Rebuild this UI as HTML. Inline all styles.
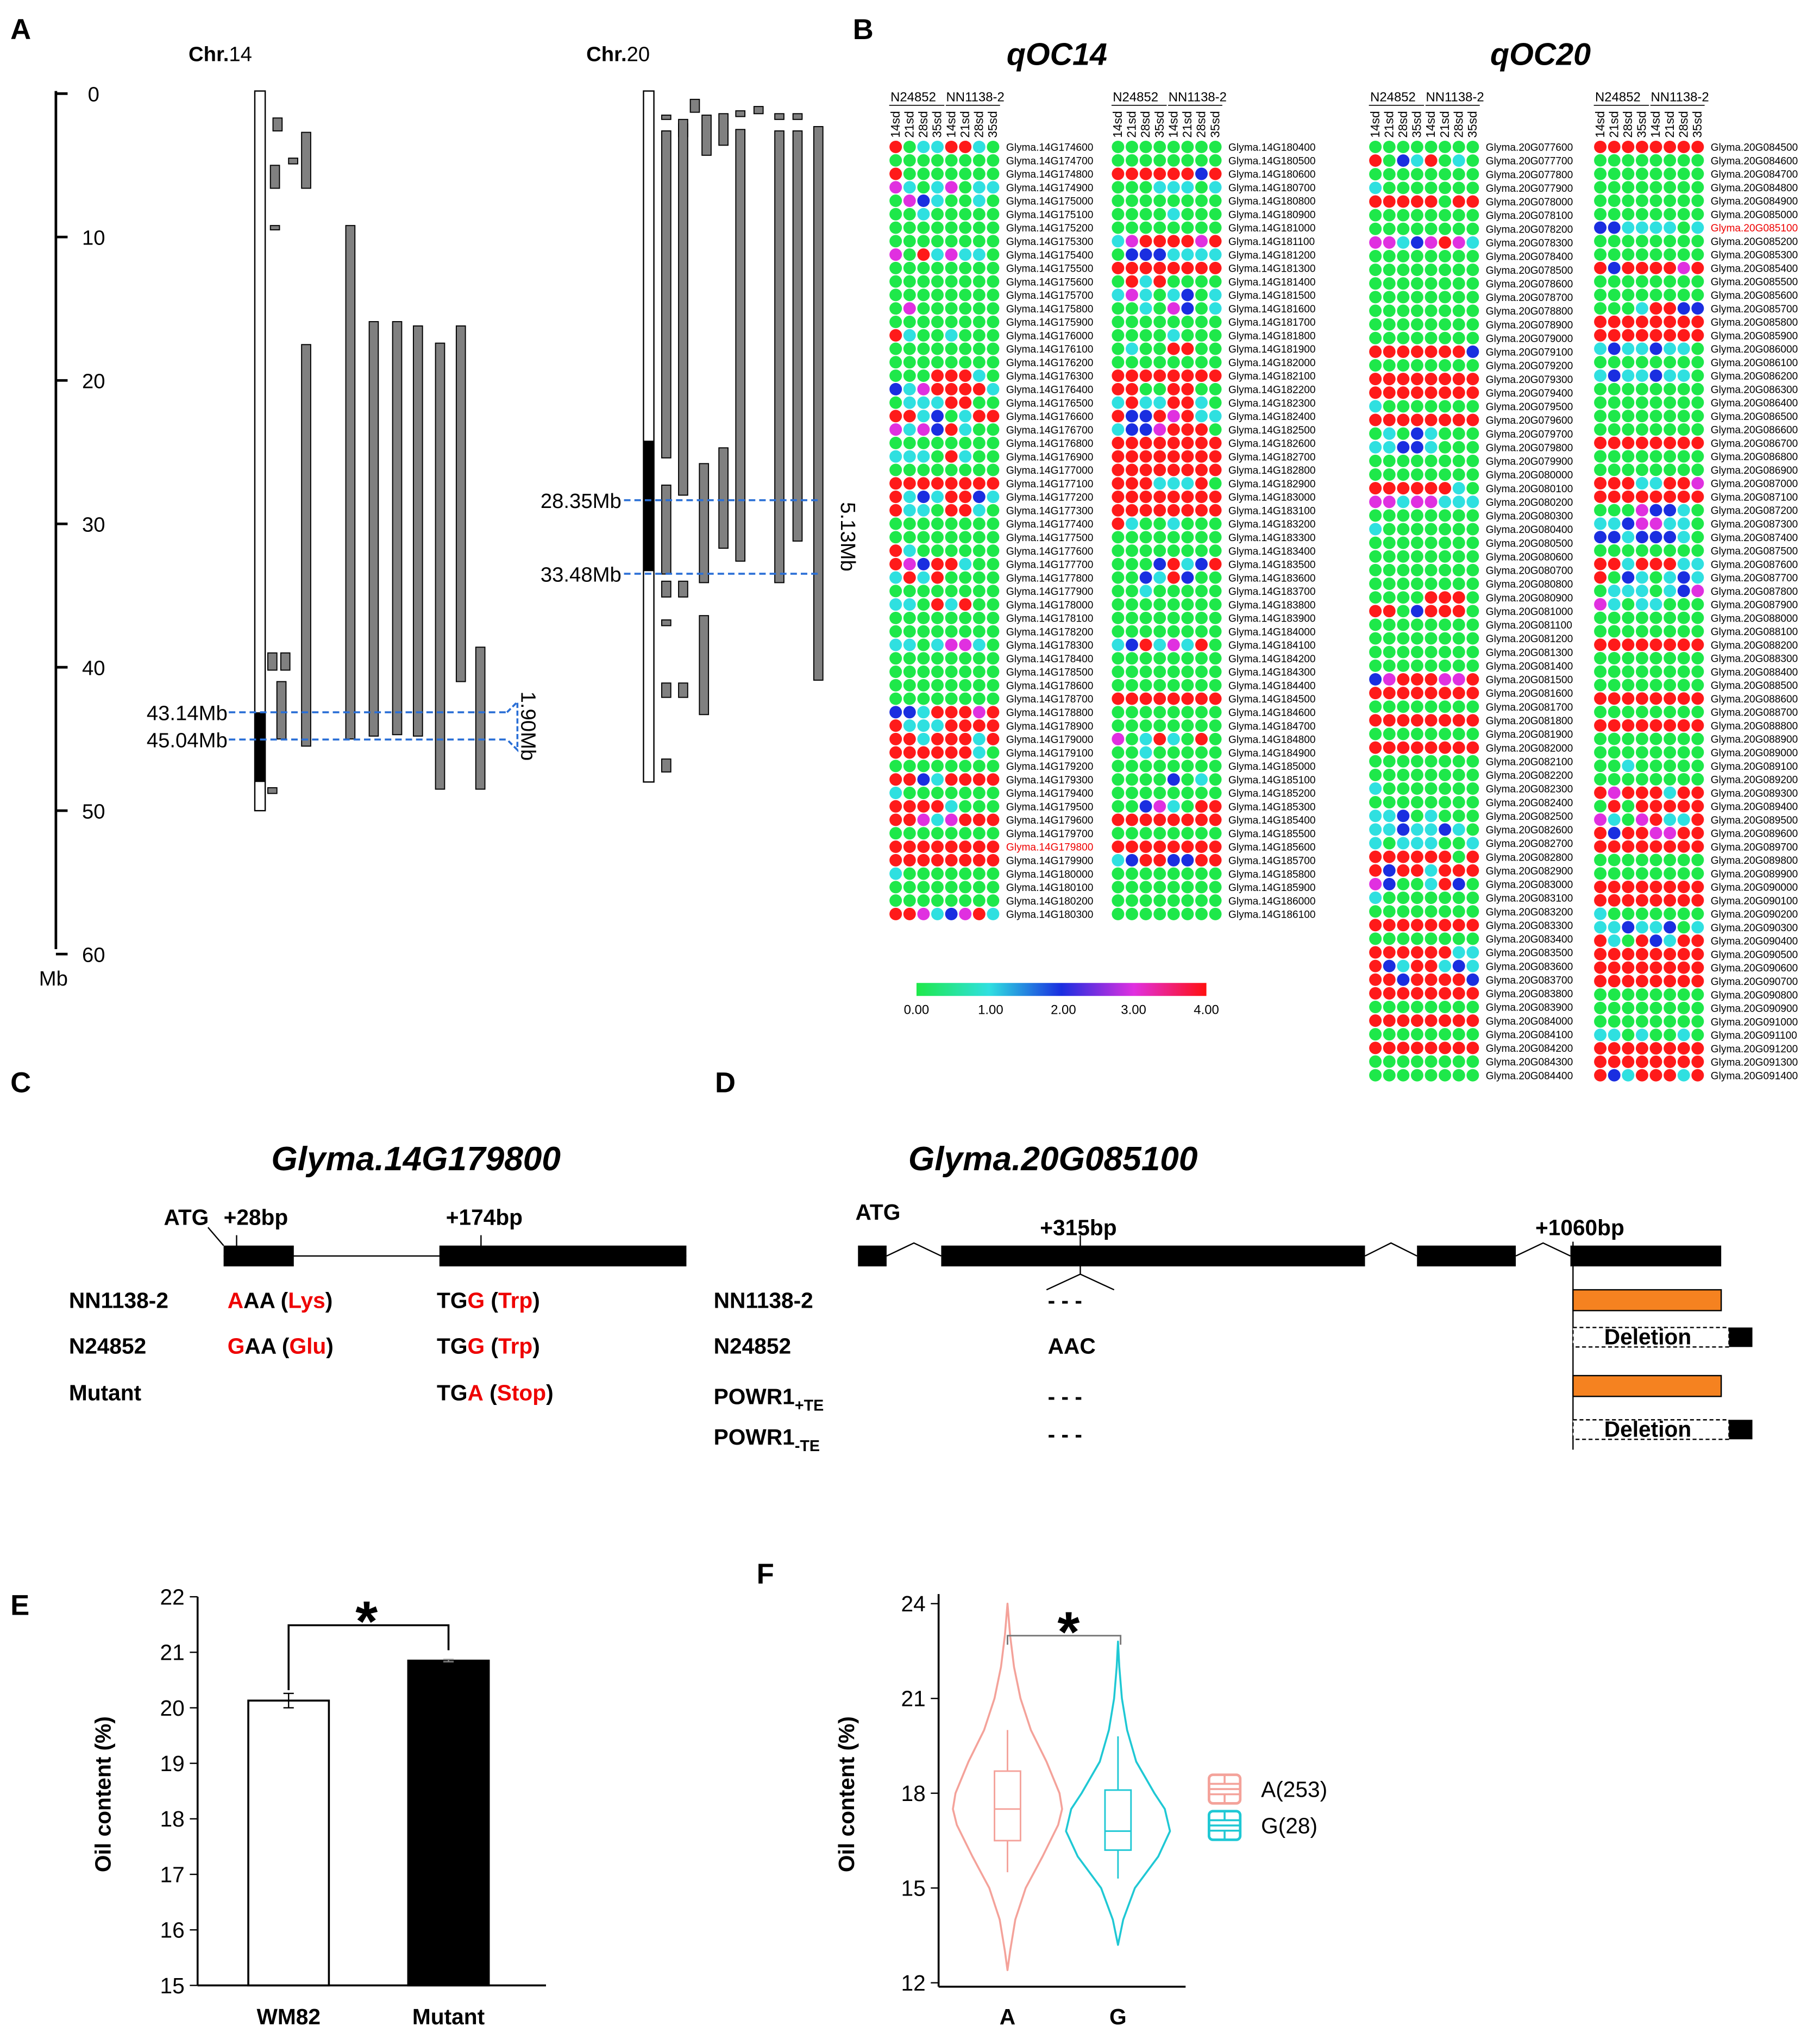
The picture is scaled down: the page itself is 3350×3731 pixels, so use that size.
<!DOCTYPE html>
<html><head><meta charset="utf-8">
<style>
html,body{margin:0;padding:0;background:#fff;}
svg{display:block;font-family:"Liberation Sans",Arial,sans-serif;}
</style></head>
<body>
<svg id="fig" width="3350" height="3731" viewBox="0 0 1400 1559" preserveAspectRatio="none" xmlns="http://www.w3.org/2000/svg">
<rect width="1400" height="1559" fill="#fff"/>
<g id="panelA">
<text x="8" y="30" font-size="22" font-weight="bold">A</text>
<text x="145" y="47" font-size="16"><tspan font-weight="bold">Chr.</tspan>14</text>
<text x="451" y="47" font-size="16"><tspan font-weight="bold">Chr.</tspan>20</text>
<text x="30" y="758" font-size="16">Mb</text>
</g>
<g id="panelB">
<text x="656" y="30" font-size="22" font-weight="bold">B</text>
<text x="813" y="50" font-size="24" font-weight="bold" font-style="italic" text-anchor="middle">qOC14</text>
<text x="1185" y="50" font-size="24" font-weight="bold" font-style="italic" text-anchor="middle">qOC20</text>
<defs><linearGradient id="cb" x1="0" x2="1" y1="0" y2="0">
<stop offset="0" stop-color="#1ee84a"/><stop offset="0.25" stop-color="#2fe0e0"/><stop offset="0.5" stop-color="#1a2ee0"/><stop offset="0.75" stop-color="#e030e0"/><stop offset="1" stop-color="#ff1010"/></linearGradient></defs>
<rect x="705" y="756" width="223" height="10" fill="url(#cb)"/>
<g font-size="10" text-anchor="middle">
<text x="705" y="780">0.00</text><text x="762" y="780">1.00</text><text x="818" y="780">2.00</text><text x="872" y="780">3.00</text><text x="928" y="780">4.00</text></g>
</g>
<g id="panelC">
<text x="8" y="840" font-size="22" font-weight="bold">C</text>
<text x="320" y="900" font-size="26" font-weight="bold" font-style="italic" text-anchor="middle">Glyma.14G179800</text>
<line x1="172" y1="966" x2="528" y2="966" stroke="#000" stroke-width="1"/>
<rect x="172" y="958" width="54" height="16" fill="#000"/>
<rect x="338" y="958" width="190" height="16" fill="#000"/>
<line x1="160" y1="944" x2="172" y2="958" stroke="#000"/>
<line x1="182" y1="950" x2="182" y2="966" stroke="#000"/><line x1="370" y1="950" x2="370" y2="966" stroke="#000"/>
<g font-size="17" font-weight="bold">
<text x="126" y="942">ATG</text><text x="172" y="942">+28bp</text><text x="343" y="942">+174bp</text>
<text x="53" y="1006">NN1138-2</text><text x="53" y="1041">N24852</text><text x="53" y="1077">Mutant</text>
<text x="175" y="1006"><tspan fill="#e00">A</tspan>AA (<tspan fill="#e00">Lys</tspan>)</text>
<text x="175" y="1041"><tspan fill="#e00">G</tspan>AA (<tspan fill="#e00">Glu</tspan>)</text>
<text x="336" y="1006">TG<tspan fill="#e00">G</tspan> (<tspan fill="#e00">Trp</tspan>)</text>
<text x="336" y="1041">TG<tspan fill="#e00">G</tspan> (<tspan fill="#e00">Trp</tspan>)</text>
<text x="336" y="1077">TG<tspan fill="#e00">A</tspan> (<tspan fill="#e00">Stop</tspan>)</text>
</g>
</g>
<g id="panelD">
<text x="550" y="840" font-size="22" font-weight="bold">D</text>
<text x="810" y="900" font-size="26" font-weight="bold" font-style="italic" text-anchor="middle">Glyma.20G085100</text>
<polyline points="682,966 703,956 724,966" fill="none" stroke="#000"/>
<polyline points="1050,966 1070,956 1090,966" fill="none" stroke="#000"/>
<polyline points="1166,966 1187,956 1208,966" fill="none" stroke="#000"/>
<rect x="660" y="958" width="22" height="16" fill="#000"/>
<rect x="724" y="958" width="326" height="16" fill="#000"/>
<rect x="1090" y="958" width="76" height="16" fill="#000"/>
<rect x="1208" y="958" width="116" height="16" fill="#000"/>
<line x1="831" y1="950" x2="831" y2="980" stroke="#000"/>
<polyline points="805,992 831,980 857,992" fill="none" stroke="#000"/>
<line x1="1210" y1="955" x2="1210" y2="1115" stroke="#000"/>
<g font-size="17" font-weight="bold">
<text x="658" y="938">ATG</text><text x="800" y="950">+315bp</text><text x="1181" y="950">+1060bp</text>
<text x="549" y="1006">NN1138-2</text><text x="549" y="1041">N24852</text>
<text x="549" y="1080">POWR1<tspan font-size="12" dy="5">+TE</tspan></text>
<text x="549" y="1111">POWR1<tspan font-size="12" dy="5">-TE</tspan></text>
<text x="806" y="1006">- - -</text><text x="806" y="1041">AAC</text><text x="806" y="1080">- - -</text><text x="806" y="1109">- - -</text>
</g>
<rect x="1210" y="992" width="114" height="16" fill="#f58220" stroke="#000"/>
<rect x="1210" y="1058" width="114" height="16" fill="#f58220" stroke="#000"/>
<rect x="1210" y="1021" width="120" height="15" fill="#fff" stroke="#000" stroke-dasharray="3,2"/>
<rect x="1330" y="1021" width="18" height="15" fill="#000"/>
<text x="1234" y="1034" font-size="17" font-weight="bold">Deletion</text>
<rect x="1210" y="1092" width="120" height="15" fill="#fff" stroke="#000" stroke-dasharray="3,2"/>
<rect x="1330" y="1092" width="18" height="15" fill="#000"/>
<text x="1234" y="1105" font-size="17" font-weight="bold">Deletion</text>
</g>
<g id="panelE">
<text x="8" y="1242" font-size="22" font-weight="bold">E</text>
<text transform="translate(85,1380) rotate(-90)" font-size="17" font-weight="bold" text-anchor="middle">Oil content (%)</text>
</g>
<g id="panelF">
<text x="582" y="1218" font-size="22" font-weight="bold">F</text>
<text transform="translate(657,1380) rotate(-90)" font-size="17" font-weight="bold" text-anchor="middle">Oil content (%)</text>
</g>
</svg>
<script>
const NS='http://www.w3.org/2000/svg';
const svg=document.getElementById('fig');
function mk(tag,attrs,parent){const e=document.createElementNS(NS,tag);for(const k in attrs)e.setAttribute(k,attrs[k]);(parent||svg).appendChild(e);return e;}
function tx(str,attrs,parent){const e=mk('text',attrs,parent);e.textContent=str;return e;}

/* ---------- Panel A data ---------- */
const mbTicks=[0,10,20,30,40,50,60];
const chr14Len=50, chr20Len=48;
const chr14Black=[43.14,48];
const chr20Black=[24.2,33.3];
const chr14Start=[1.7,5,4.5,9.2,2.7,17.5,9.2,15.9,15.9,16.2,17.4,16.2,38.6,39,39,41,48.4];
const chr14End=[2.6,6.6,4.9,9.5,6.6,45.5,45,44.8,44.7,44.8,48.5,41,48.5,40.2,40.2,45,48.8];
const chr20Start=[1.5,2.6,2.1,0.4,1.8,1.5,1.4,1.2,0.9,1.4,1.4,2.6,2.6,2.3,2.5,24.7,25.8,27.3,34,34,36.4,41.1,41.1,46.4,36.7];
const chr20End=[1.8,25.4,3,1.3,28.0,4.3,3.6,1.6,1.4,1.8,1.8,34.1,31.2,40.9,32.6,31.7,34.1,33.5,35.1,35.1,43.3,42.1,42.1,47.3,37.1];
const chr14X=[210,208,222,208,232,232,266,284,302,318,335,351,366,206,216,213,206];
const chr20X=[509,509,522,531,522,540,553,566,580,596,610,596,610,626,566,553,538,509,509,522,538,509,522,509,509];
const yMb=v=>72+v*11.03;
const gA=document.getElementById('panelA');
let ax=mk('line',{x1:43,y1:70,x2:43,y2:730,stroke:'#000','stroke-width':2},gA);


mbTicks.forEach(t=>{
  const l=mk('line',{x1:43,y1:yMb(t),x2:52,y2:yMb(t),stroke:'#000','stroke-width':2},gA);
  
  
  const tt=tx(String(t),{x:72,y:yMb(t)+6,'font-size':16,'text-anchor':'middle'},gA);
  
  
});
function chrom(x,len,black,name){
  const r=mk('rect',{x:x,y:yMb(0)-2,width:8,height:yMb(len)-yMb(0)+2,fill:'#fff',stroke:'#000','stroke-width':1},gA);
  
  
  const b=mk('rect',{x:x,y:yMb(black[0]),width:8,height:yMb(black[1])-yMb(black[0]),fill:'#000'},gA);
  
  
}
chrom(196,chr14Len,chr14Black,'chr14-bar');
chrom(495,chr20Len,chr20Black,'chr20-bar');
function segs(xs,st,en,name){
  for(let i=0;i<xs.length;i++){
    const r=mk('rect',{x:xs[i],y:yMb(st[i]),width:7,height:Math.max(2,yMb(en[i])-yMb(st[i])),fill:'#808080',stroke:'#000','stroke-width':0.8},gA);
    
    
  }
}
segs(chr14X,chr14Start,chr14End,'chr14-segment');
segs(chr20X,chr20Start,chr20End,'chr20-segment');
function dash(x1,x2,mb,label,lx,name){
  const l=mk('line',{x1:x1,y1:yMb(mb),x2:x2,y2:yMb(mb),stroke:'#2a6fd6','stroke-width':1.5,'stroke-dasharray':'5,3'},gA);
  
  
  const t=tx(label,{x:lx,y:yMb(mb)+6,'font-size':16,'text-anchor':'end'},gA);
  
  
}
dash(176,390,43.14,'43.14Mb',175,'qtl14-start-line');
dash(176,390,45.04,'45.04Mb',175,'qtl14-end-line');
dash(480,630,28.35,'28.35Mb',478,'qtl20-start-line');
dash(480,630,33.48,'33.48Mb',478,'qtl20-end-line');
let br=mk('path',{d:`M390 ${yMb(43.14)} L398 ${yMb(43.14)-8} L398 ${yMb(45.04)+8} L390 ${yMb(45.04)}`,fill:'none',stroke:'#2a6fd6','stroke-width':1.5,'stroke-dasharray':'4,2'},gA);


let t1=tx('1.90Mb',{transform:`translate(401,${yMb(44.1)}) rotate(90)`,'font-size':16,'text-anchor':'middle'},gA);


let t2=tx('5.13Mb',{transform:`translate(647,${yMb(30.9)}) rotate(90)`,'font-size':16,'text-anchor':'middle'},gA);



/* ---------- Panel B heatmaps ---------- */
const colHeads=['14sd','21sd','28sd','35sd','14sd','21sd','28sd','35sd'];
const heat14a=["rgccrrcg","gggggggg","rggggggg","mcgcmgcc","gmbcggcg","ggcggggg","gggggggg","gggggggg","mgrcmccg","gggggggg","gggggggg","gggggggg","gmgggggg","gggggggg","rcggcggg","gggggggg","gggggggg","gggrrrcg","bcmrrrrc","gcccrrgg","rrcbgcrr","mcmbrcgg","gggggggg","cccgrcgg","gggggggg","rrrrrrrr","rcbcrrbc","rccgrrcg","gggggggg","gggggggg","rcgggggg","rmbrrcgg","crcrgggg","gggggggg","ccgrcrgg","gggggggg","gggggggg","ccgcmmcg","gggggggg","gggggggg","gggggggg","gggggggg","bbcrrrmr","rcccrrrr","rrcrrrcr","rrrrrrcg","gggggggg","rrbcrrrr","cggggggg","rrrrcggg","rrmcmrrr","gggggggg","rrrrrrrr","rrrrrrrr","cggggggg","gggggggg","gggggggg","rrmcbmrc"];
const heat14b=["gggggggg","gggggggg","rrrrrrbr","gggcccgc","gggggggg","ggggcggg","gggggggg","cmrrrrmr","gbbbcccc","rrrrrrrr","grcrgggg","cmcgcbgc","ggcgmbgc","gggggggg","ggggcggg","gcggrrgg","gggggggg","rrrrrrrr","rrggrrgg","crccrrcg","rbbrmrcc","cbbmrrrg","rrrrrrrr","rrrrrrrr","rrrrrrrr","rrrcccrg","rrrrrrrr","rrrrrrrr","rcggcggg","gggggggg","gggggggg","gggbrcbr","ggbcrbgg","ggcggggg","gggggggg","gggggggg","gggggggg","cbrcmcrg","gggggggg","gggggggg","gggggggg","rrrrrrrr","gggggggg","gggggggg","mgcrcgrg","ggcggggg","gggggggg","ggggbgcg","gggggggg","ggbmcgrr","rrrrrrrr","gggggggg","rrrrrrrr","cbrrbbrr","gggggggg","gggggggg","gggggggg","gggggggg"];
const heat20a=["gggggggg","rgbcrgcg","gggggggg","cggggggg","rrrrrgrr","gggggggg","gggggggg","mmcbmrmc","gggggggg","gggggggg","gggggggg","gggggggg","gggggggg","gggggggg","gggggggg","rrrrrrrb","gggggggg","rrrrrrrr","rrrrrrrr","cggggggg","rrrrrrrr","gcgbcggg","ccbbcggg","gggggggg","gggggggg","rrrrrrcg","mmcmmccc","gggggggg","cggggggg","gggggggg","gggggggg","gggggggg","gggggggg","ggggrrrg","rrgbrrrg","gggggggg","gggggggg","gggggggg","gggggggg","bmrrrmmr","rrrrrrrr","gggggggg","rrrrrrrr","gggggggg","rrrrrrrr","gggggggg","gggggggg","cggggggg","gggggggg","ccbgcggg","ccbccbcg","cgcccggc","rrrrrrgr","rbrrcrrr","mbggcrbg","cggggggg","gggggggg","rrrrrrrr","gggggggg","rrrrrrcc","rbcrrcbc","rrbrrrrb","rrrrrrrr","gggggggg","rrrrrrrr","gggggggg","rrrrrrrr","gggggggg","gggggggg"];
const heat20b=["rrrrrrrr","gggggggg","gggggggg","gggggggg","gggggggg","gggggggg","bbccccgc","gggggggg","gggggggg","rbrrrrmr","gggggggg","gggggggg","gggcrrbb","rrrrrrrr","rrrrrrrr","cbccbccg","gggggggg","cbccbccg","gggggggg","gggggggg","gggggggg","gggggggg","rrrrrrrr","gggggggg","gggggggg","rrrccrrm","rrrrrrrr","gggmbbcg","ccbmmccg","bbcbbbcg","gggggggg","rrcrrrcc","rgbcgcbc","gcccgcbm","mcgccggg","gggggggg","gggggggg","rrrrrrrr","gggggggg","gggggggg","gggggggg","rrrrrrrr","gggggggg","rrrrrrrr","gggggggg","gggggggg","ggcggggg","gggggggg","rmrrrcrr","grgrrrrr","mcgmrccr","rbrrmmrr","rrrrrrrr","gggggggg","gggggggg","rrrrrrrr","rrrrrrrr","cggggggg","ccbccbgc","rcgrbcrr","rrrrrrrr","rrrrrrrr","rrrrrrrr","gggggggg","gggggggg","gggggggg","ccgcggcg","rrrrrrrr","rrrrrrrr","rbcrrrcr"];
const genes14a=heat14a.map((_,i)=>'Glyma.14G'+(174600+i*100));
const genes14b=heat14b.map((_,i)=>'Glyma.14G'+(180400+i*100));
const genes20a=heat20a.map((_,i)=>'Glyma.20G0'+(77600+i*100));
const genes20b=heat20b.map((_,i)=>'Glyma.20G0'+(84500+i*100));
const highlighted=['Glyma.14G179800','Glyma.20G085100'];
const colorMap={g:'#1ee84a',c:'#2fe0e0',b:'#1a2ee0',m:'#e030e0',r:'#ff1a1a'};
const gB=document.getElementById('panelB');
function heatBlock(rows,genes,x0,y0,y1,name){
  const g=mk('g',{},gB);
  
  
  const dx=10.7, dy=(y1-y0)/(rows.length-1);
  const n1=tx('N24852',{x:x0-4,y:78,'font-size':10},g);
  
  
  const n2=tx('NN1138-2',{x:x0+4*dx-4,y:78,'font-size':10},g);
  
  
  mk('line',{x1:x0-5,y1:81,x2:x0+3.5*dx,y2:81,stroke:'#000','stroke-width':0.7},g);
  mk('line',{x1:x0+3.6*dx,y1:81,x2:x0+7.5*dx,y2:81,stroke:'#000','stroke-width':0.7},g);
  colHeads.forEach((h,j)=>{
    const t=tx(h,{transform:`translate(${x0+j*dx+3},106) rotate(-90)`,'font-size':9.5},g);
    
    
  });
  rows.forEach((row,i)=>{
    const y=y0+i*dy;
    for(let j=0;j<row.length;j++){
      const c=mk('circle',{cx:x0+j*dx,cy:y,r:4.8,fill:colorMap[row[j]]||'#1ee84a'},g);
      
      
    }
    const hl=highlighted.includes(genes[i]);
    const t=tx(genes[i],{x:x0+7*dx+10,y:y+3,'font-size':8,fill:hl?'#e00':'#000'},g);
    
    
  });
}
heatBlock(heat14a,genes14a,689,113,703,'heatmap-14-left');
heatBlock(heat14b,genes14b,860,113,703,'heatmap-14-right');
heatBlock(heat20a,genes20a,1058,113,827,'heatmap-20-left');
heatBlock(heat20b,genes20b,1231,113,827,'heatmap-20-right');

/* ---------- Panel E bar chart ---------- */
const eCats=['WM82','Mutant'];
const eVals=[20.13,20.85];
const eErr=[0.13,0.02];
const eTicks=[15,16,17,18,19,20,21,22];
const eY=v=>1527-(v-15)*42.7;
const eX=[222,345];
const gE=document.getElementById('panelE');
let ea=mk('line',{x1:152,y1:eY(22),x2:152,y2:eY(15),stroke:'#000','stroke-width':1.5},gE);


let ex=mk('line',{x1:152,y1:eY(15),x2:420,y2:eY(15),stroke:'#000','stroke-width':1.5},gE);


eTicks.forEach(t=>{
  mk('line',{x1:146,y1:eY(t),x2:152,y2:eY(t),stroke:'#000'},gE);
  const l=tx(String(t),{x:142,y:eY(t)+6,'font-size':17,'text-anchor':'end'},gE);
  
  
});
eCats.forEach((c,i)=>{
  const b=mk('rect',{x:eX[i]-31,y:eY(eVals[i]),width:62,height:eY(15)-eY(eVals[i]),fill:i?'#000':'#fff',stroke:'#000','stroke-width':1.5},gE);
  
  
  const e=mk('path',{d:`M${eX[i]} ${eY(eVals[i]+eErr[i])} V${eY(eVals[i]-eErr[i])} M${eX[i]-4} ${eY(eVals[i]+eErr[i])} H${eX[i]+4} M${eX[i]-4} ${eY(eVals[i]-eErr[i])} H${eX[i]+4}`,stroke:i?'#888':'#000',fill:'none'},gE);
  
  
  const l=tx(c,{x:eX[i],y:1557,'font-size':17,'font-weight':'bold','text-anchor':'middle'},gE);
  
  
});
let eb=mk('path',{d:`M${eX[0]} ${eY(eVals[0])-8} V1250 H${eX[1]} V${eY(eVals[1])-8}`,fill:'none',stroke:'#000','stroke-width':1.5},gE);


let es=tx('*',{x:282,y:1262,'font-size':44,'font-weight':'bold','text-anchor':'middle'},gE);



/* ---------- Panel F violin ---------- */
const fCats=['A','G'];
const fLegend=['A(253)','G(28)'];
const fVals=[[12.4,13,14,15,16,17,17.5,18,19,20,21,22,23,24],[13.2,14,15,16,16.8,17.5,18,19,20,21,22,22.8]];
const fDens=[[0,2,6,14,27,39,42,40,30,18,10,5,2,0],[0,4,13,31,40,36,28,14,7,3,1,0]];
const fQ1=[16.5,16.2], fMed=[17.5,16.8], fQ3=[18.7,18.1], fLo=[15.5,15.3], fHi=[20.0,19.8];
const fTicks=[12,15,18,21,24];
const fY=v=>1525-(v-12)*24.3;
const fX=[775,860];
const fCol=['#f4a29a','#1fc8d4'];
const gF=document.getElementById('panelF');
let fa=mk('line',{x1:722,y1:1226,x2:722,y2:1528,stroke:'#000','stroke-width':1.5},gF);


let fx=mk('line',{x1:722,y1:1528,x2:912,y2:1528,stroke:'#000','stroke-width':1.5},gF);


fTicks.forEach(t=>{
  mk('line',{x1:716,y1:fY(t),x2:722,y2:fY(t),stroke:'#000'},gF);
  const l=tx(String(t),{x:712,y:fY(t)+6,'font-size':17,'text-anchor':'end'},gF);
  
  
});
fCats.forEach((c,i)=>{
  const v=fVals[i], d=fDens[i], cx=fX[i];
  let p='M'+cx+' '+fY(v[0]);
  for(let k=0;k<v.length;k++) p+=' L'+(cx+d[k])+' '+fY(v[k]);
  for(let k=v.length-1;k>=0;k--) p+=' L'+(cx-d[k])+' '+fY(v[k]);
  const vp=mk('path',{d:p+'Z',fill:'none',stroke:fCol[i],'stroke-width':1.5,'stroke-linejoin':'round'},gF);
  
  
  const w=mk('path',{d:`M${cx} ${fY(fHi[i])} V${fY(fQ3[i])} M${cx} ${fY(fQ1[i])} V${fY(fLo[i])}`,stroke:fCol[i],'stroke-width':1.2},gF);
  
  
  const bx=mk('rect',{x:cx-10,y:fY(fQ3[i]),width:20,height:fY(fQ1[i])-fY(fQ3[i]),fill:'none',stroke:fCol[i],'stroke-width':1.2},gF);
  
  
  const md=mk('line',{x1:cx-10,y1:fY(fMed[i]),x2:cx+10,y2:fY(fMed[i]),stroke:fCol[i],'stroke-width':1.2},gF);
  
  
  const l=tx(c,{x:cx,y:1557,'font-size':17,'font-weight':'bold','text-anchor':'middle'},gF);
  
  
  const ly=1376+i*28;
  const lb=mk('rect',{x:930,y:ly-11,width:24,height:22,rx:3,fill:'none',stroke:fCol[i],'stroke-width':2},gF);
  
  
  mk('path',{d:`M930 ${ly-4} H954 M930 ${ly} H954 M930 ${ly+4} H954 M942 ${ly-11} V${ly-4} M942 ${ly+4} V${ly+11}`,stroke:fCol[i],'stroke-width':1.5},gF);
  const lt=tx(fLegend[i],{x:970,y:ly+6,'font-size':17},gF);
  
  
});
let fb=mk('path',{d:`M${fX[0]} 1265 V1258 H${fX[1]+2} V1265`,fill:'none',stroke:'#777','stroke-width':1.2},gF);


let fs=tx('*',{x:822,y:1270,'font-size':44,'font-weight':'bold','text-anchor':'middle'},gF);


</script>
</body></html>
